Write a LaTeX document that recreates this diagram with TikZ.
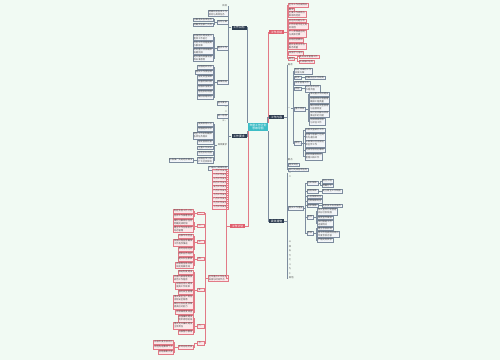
\documentclass[tikz,border=0pt]{standalone}
\usepackage{fontspec}
\setmainfont{Noto Sans CJK SC}
\usepackage{xcolor}
\usetikzlibrary{positioning}

\definecolor{mmbg}{HTML}{F1FAF3}
\definecolor{mmteal}{HTML}{3DBDC6}
\definecolor{mmnavy}{HTML}{2E3D50}
\definecolor{mmred}{HTML}{E0606E}
\definecolor{mmnline}{HTML}{7D8C9E}
\definecolor{mmnfill}{HTML}{F3F6F9}
\definecolor{mmrline}{HTML}{E27A86}
\definecolor{mmrfill}{HTML}{FCE8EA}
\definecolor{mmtext}{HTML}{4A4A4A}

\newcommand{\leaffont}{\fontsize{1.3pt}{1.6pt}\selectfont}
\newcommand{\topicfont}{\fontsize{1.6pt}{1.9pt}\selectfont}

\begin{document}
\begin{tikzpicture}[x=0.02cm, y=-0.02cm,
    root/.style={rectangle, fill=mmteal, text=white, font=\topicfont, align=center, inner xsep=0.8pt, inner ysep=0.5pt, minimum width=0.4cm, minimum height=0.12cm},
    navymain/.style={rectangle, fill=mmnavy, text=white, font=\topicfont, minimum width=0.3cm, minimum height=0.07cm, inner sep=0.4pt},
    redmain/.style={navymain, fill=mmred},
    nleaf/.style={rectangle, draw=mmnline, fill=mmnfill, line width=0.1pt, text=mmtext, font=\leaffont, align=left, inner xsep=0.5pt, inner ysep=0.35pt},
    rleaf/.style={nleaf, draw=mmrline, fill=mmrfill},
    word/.style={font=\leaffont, text=mmtext, inner sep=0.35pt},
    nline/.style={draw=mmnline, line width=0.3pt},
    rline/.style={draw=mmrline, line width=0.3pt}
]
\fill[mmbg] (0,0) rectangle (500,360);

\node[root] (root) at (258,127) {年度工作计划\\思维导图};

% main topics
\node[navymain] (a) at (239,27.5)  {工作目标};
\node[redmain]  (b) at (276.5,32)  {工作总结};
\node[navymain] (c) at (276.5,117) {工作内容};
\node[navymain] (d) at (239,136)   {工作要求};
\node[redmain]  (e) at (237.5,226) {工作计划};
\node[navymain] (f) at (276.5,221) {具体措施};

\draw[nline] (root.north west) |- (a.east);
\draw[nline] (root.south west) |- (d.east);
\draw[rline] ([xshift=0.6pt]root.south west) |- (e.east);
\draw[rline] (root.north east) |- (b.west);
\draw[nline] ([xshift=-0.6pt]root.north east) |- (c.west);
\draw[nline] (root.south east) |- (f.west);

% ---- a
\node[word, anchor=east]  (a1) at (228,6)  {目标};
\node[nleaf, anchor=east] (a2) at (228,13) {明确年度各项工作\\目标与具体任务};
\node[nleaf, anchor=east] (a3) at (228,22) {任务分解};
\node[nleaf, anchor=east] (a4) at (228,48) {重点工作};
\node[nleaf, anchor=east] (a5) at (228,82) {保障措施};
\foreach \n in {a1,a2,a3,a4,a5} \draw[nline] (a.west) -- ++(-3,0) |- (\n.east);

\coordinate (a3x) at ([xshift=-0.08cm]a3.west);
\node[nleaf, anchor=east] (a31) at (a3x |- 0,19.5) {分解落实各项任务};
\node[nleaf, anchor=east] (a32) at (a3x |- 0,24.5) {明确责任部门人员};
\foreach \n in {a31,a32} \draw[nline] (a3.west) -- ++(-3,0) |- (\n.east);

\coordinate (a4x) at ([xshift=-0.08cm]a4.west);
\node[nleaf, anchor=east] (a41) at (a4x |- 0,37) {加强团队建设提升\\整体工作能力};
\node[nleaf, anchor=east] (a42) at (a4x |- 0,44) {优化工作流程提高\\办事效率};
\node[nleaf, anchor=east] (a43) at (a4x |- 0,51) {抓好重点项目确保\\按期完成};
\node[nleaf, anchor=east] (a44) at (a4x |- 0,58) {提升服务质量增强\\群众满意度};
\foreach \n in {a41,a42,a43,a44} \draw[nline] (a4.west) -- ++(-3,0) |- (\n.east);

\coordinate (a5x) at ([xshift=-0.08cm]a5.west);
\node[nleaf, anchor=east] (a51) at (a5x |- 0,67) {加强组织领导};
\node[nleaf, anchor=east] (a52) at (a5x |- 0,72) {落实工作责任制};
\node[nleaf, anchor=east] (a53) at (a5x |- 0,77) {强化资金保障};
\node[nleaf, anchor=east] (a54) at (a5x |- 0,82) {完善考核机制};
\node[nleaf, anchor=east] (a55) at (a5x |- 0,87) {加强队伍建设};
\node[nleaf, anchor=east] (a56) at (a5x |- 0,92) {营造良好氛围};
\node[nleaf, anchor=east] (a57) at (a5x |- 0,97) {做好总结评估};
\foreach \n in {a51,a52,a53,a54,a55,a56,a57} \draw[nline] (a5.west) -- ++(-3,0) |- (\n.east);

% ---- b
\node[rleaf, anchor=west] (b1)  at (288,5)    {全年工作完成情况};
\node[rleaf, anchor=west] (b2)  at (288,9.5)  {概况};
\node[rleaf, anchor=west] (b3)  at (288,14.5) {主要工作成绩与\\取得的经验};
\node[rleaf, anchor=west] (b4)  at (288,20.5) {存在的问题分析};
\node[rleaf, anchor=west] (b5)  at (288,26.5) {工作中的不足之处\\及原因};
\node[rleaf, anchor=west] (b6)  at (288,33.5) {下一步改进方向\\与具体打算};
\node[rleaf, anchor=west] (b7)  at (288,40)   {总结经验教训};
\node[rleaf, anchor=west] (b8)  at (288,46.5) {提升业务水平与\\服务质量};
\node[rleaf, anchor=west] (b9)  at (288,53)   {加强学习培训};
\node[rleaf, anchor=west] (b10) at (288,58.5) {其他};
\foreach \n in {b1,b2,b3,b4,b5,b6,b7,b8,b9,b10} \draw[rline] (b.east) -- ++(3,0) |- (\n.west);

\coordinate (b10x) at ([xshift=0.08cm]b10.east);
\node[rleaf, anchor=west] (b101) at (b10x |- 0,56.5) {做好日常管理工作};
\node[rleaf, anchor=west] (b102) at (b10x |- 0,61.5) {完成临时任务};
\foreach \n in {b101,b102} \draw[rline] (b10.east) -- ++(3,0) |- (\n.west);

% ---- c
\node[word, anchor=west]  (c1) at (287,65)    {概述};
\node[word, anchor=west]  (c2) at (287,108)   {一};
\node[word, anchor=west]  (c3) at (287,160)   {要点};
\node[nleaf, anchor=west] (c4) at (288,164.5) {落实到位};
\node[nleaf, anchor=west] (c5) at (288,169.5) {按时完成各项任务};
\foreach \n in {c1,c2,c3,c4,c5} \draw[nline] (c.east) -- ++(3,0) |- (\n.west);

\coordinate (c2x) at ([xshift=0.06cm]c2.east);
\node[nleaf, anchor=west] (c21) at (c2x |- 0,71)   {制定详细的工作\\实施方案};
\node[nleaf, anchor=west] (c22) at (c2x |- 0,77.5) {职责};
\node[nleaf, anchor=west] (c23) at (c2x |- 0,83)   {日常管理工作};
\node[nleaf, anchor=west] (c24) at (c2x |- 0,88.5) {流程};
\node[nleaf, anchor=west] (c25) at (c2x |- 0,109)  {重点项目};
\node[nleaf, anchor=west] (c26) at (c2x |- 0,143)  {其他};
\foreach \n in {c21,c22,c23,c24,c25,c26} \draw[nline] (c2.east) -- ++(2,0) |- (\n.west);

\coordinate (c22x) at ([xshift=0.08cm]c22.east);
\node[nleaf, anchor=west] (c221) at (c22x |- 0,77.5) {明确岗位工作职责};
\draw[nline] (c22.east) -- (c221.west);
\coordinate (c24x) at ([xshift=0.08cm]c24.east);
\node[nleaf, anchor=west] (c241) at (c24x |- 0,88.5) {规范各项业务\\办理流程};
\draw[nline] (c24.east) -- (c241.west);

\coordinate (c25x) at ([xshift=0.08cm]c25.east);
\node[nleaf, anchor=west] (c251) at (c25x |- 0,94)    {推进重点项目建设};
\node[nleaf, anchor=west] (c252) at (c25x |- 0,100.5) {加强项目过程管理\\确保工程质量};
\node[nleaf, anchor=west] (c253) at (c25x |- 0,107.5) {做好项目资金使用\\与监督检查};
\node[nleaf, anchor=west] (c254) at (c25x |- 0,114.5) {及时协调解决项目\\推进中的问题};
\node[nleaf, anchor=west] (c255) at (c25x |- 0,121.5) {完成项目验收\\与评估工作};
\foreach \n in {c251,c252,c253,c254,c255} \draw[nline] (c25.east) -- ++(3,0) |- (\n.west);

\coordinate (c26x) at ([xshift=0.08cm]c26.east);
\node[nleaf, anchor=west] (c261) at (c26x |- 0,130)   {开展调查研究工作};
\node[nleaf, anchor=west] (c262) at (c26x |- 0,136.5) {加强与各部门之间\\的沟通协调};
\node[nleaf, anchor=west] (c263) at (c26x |- 0,143.5) {认真做好信息报送\\和宣传工作};
\node[nleaf, anchor=west] (c264) at (c26x |- 0,150)   {完成领导交办事项};
\node[nleaf, anchor=west] (c265) at (c26x |- 0,156.5) {做好档案资料的\\整理归档工作};
\foreach \n in {c261,c262,c263,c264,c265} \draw[nline] (c26.east) -- ++(3,0) |- (\n.west);

% ---- d
\node[nleaf, anchor=east] (d1) at (228,103)   {基本要求};
\node[word, anchor=east]  (d2) at (228,107)   {一};
\node[word, anchor=east]  (d3) at (228,111.5) {二};
\node[nleaf, anchor=east] (d4) at (228,116)   {统一思想};
\node[word, anchor=east]  (d5) at (228,120.5) {三、};
\node[word, anchor=east]  (d6) at (228,145)   {具体要求};
\node[nleaf, anchor=east] (d7) at (228,168)   {严格执行规章制度};
\foreach \n in {d1,d2,d3,d4,d5,d6,d7} \draw[nline] (d.west) -- ++(-3,0) |- (\n.east);

\coordinate (d6x) at ([xshift=-0.08cm]d6.west);
\node[nleaf, anchor=east] (d61) at (d6x |- 0,124)   {提高思想认识};
\node[nleaf, anchor=east] (d62) at (d6x |- 0,129)   {加强组织领导};
\node[nleaf, anchor=east] (d63) at (d6x |- 0,135.5) {健全工作机制确保\\各项任务落实};
\node[nleaf, anchor=east] (d64) at (d6x |- 0,142)   {强化督促检查};
\node[nleaf, anchor=east] (d65) at (d6x |- 0,147.5) {注重工作实效};
\node[nleaf, anchor=east] (d66) at (d6x |- 0,153)   {营造良好氛围};
\node[nleaf, anchor=east] (d67) at (d6x |- 0,160)   {加强宣传引导\\扩大社会影响};
\foreach \n in {d61,d62,d63,d64,d65,d66,d67} \draw[nline] (d6.west) -- ++(-3,0) |- (\n.east);

\coordinate (d67x) at ([xshift=-0.08cm]d67.west);
\node[nleaf, anchor=east] (d671) at (d67x |- 0,160) {积极推广先进经验做法};
\draw[nline] (d67.west) -- (d671.east);

% ---- e
\node[rleaf, anchor=east] (e1)  at (228,171) {一月工作安排};
\node[rleaf, anchor=east] (e2)  at (228,175) {二月工作安排};
\node[rleaf, anchor=east] (e3)  at (228,179) {三月工作安排};
\node[rleaf, anchor=east] (e4)  at (228,183) {四月工作安排};
\node[rleaf, anchor=east] (e5)  at (228,187) {五月工作安排};
\node[rleaf, anchor=east] (e6)  at (228,191) {六月工作安排};
\node[rleaf, anchor=east] (e7)  at (228,195) {七月工作安排};
\node[rleaf, anchor=east] (e8)  at (228,199) {八月工作安排};
\node[rleaf, anchor=east] (e9)  at (228,203) {九月工作安排};
\node[rleaf, anchor=east] (e10) at (228,207) {十月工作安排};
\node[rleaf, anchor=east] (e11) at (228,278) {全年重点工作任务\\安排与时间节点};
\foreach \n in {e1,e2,e3,e4,e5,e6,e7,e8,e9,e10,e11} \draw[rline] (e.west) -- ++(-3,0) |- (\n.east);

\coordinate (e11x) at ([xshift=-0.08cm]e11.west);
\node[rleaf, anchor=east] (e111) at (e11x |- 0,213) {一、};
\node[rleaf, anchor=east] (e112) at (e11x |- 0,226) {二、};
\node[rleaf, anchor=east] (e113) at (e11x |- 0,242) {三、};
\node[rleaf, anchor=east] (e114) at (e11x |- 0,259) {四、};
\node[rleaf, anchor=east] (e115) at (e11x |- 0,290) {五、};
\node[rleaf, anchor=east] (e116) at (e11x |- 0,326) {六、};
\node[rleaf, anchor=east] (e117) at (e11x |- 0,343) {七、};
\foreach \n in {e111,e112,e113,e114,e115,e116,e117} \draw[rline] (e11.west) -- ++(-3,0) |- (\n.east);

\coordinate (g1x) at ([xshift=-0.08cm]e111.west);
\node[rleaf, anchor=east] (g11) at (g1x |- 0,211) {制定年度工作计划};
\node[rleaf, anchor=east] (g12) at (g1x |- 0,216) {召开工作部署会议};
\foreach \n in {g11,g12} \draw[rline] (e111.west) -- ++(-3,0) |- (\n.east);

\coordinate (g2x) at ([xshift=-0.08cm]e112.west);
\node[rleaf, anchor=east] (g21) at (g2x |- 0,222) {细化分解目标任务\\明确完成时限};
\node[rleaf, anchor=east] (g22) at (g2x |- 0,229) {建立工作台账实行\\动态管理};
\foreach \n in {g21,g22} \draw[rline] (e112.west) -- ++(-3,0) |- (\n.east);

\coordinate (g3x) at ([xshift=-0.08cm]e113.west);
\node[rleaf, anchor=east] (g31) at (g3x |- 0,236)   {开展专项检查};
\node[rleaf, anchor=east] (g32) at (g3x |- 0,242.5) {加强过程监督确保\\工作有序推进};
\node[rleaf, anchor=east] (g33) at (g3x |- 0,249)   {及时总结经验};
\foreach \n in {g31,g32,g33} \draw[rline] (e113.west) -- ++(-3,0) |- (\n.east);

\coordinate (g4x) at ([xshift=-0.08cm]e114.west);
\node[rleaf, anchor=east] (g41) at (g4x |- 0,254) {组织业务培训};
\node[rleaf, anchor=east] (g42) at (g4x |- 0,259) {提升队伍素质};
\node[rleaf, anchor=east] (g43) at (g4x |- 0,265) {开展岗位练兵和\\技能竞赛活动};
\foreach \n in {g41,g42,g43} \draw[rline] (e114.west) -- ++(-3,0) |- (\n.east);

\coordinate (g5x) at ([xshift=-0.08cm]e115.west);
\node[rleaf, anchor=east] (g51) at (g5x |- 0,272)   {推进制度建设};
\node[rleaf, anchor=east] (g52) at (g5x |- 0,278.5) {完善内部管理制度\\规范工作程序};
\node[rleaf, anchor=east] (g53) at (g5x |- 0,285.5) {加强信息化建设\\提高工作效率};
\node[rleaf, anchor=east] (g54) at (g5x |- 0,292)   {强化安全管理};
\node[rleaf, anchor=east] (g55) at (g5x |- 0,298.5) {落实安全生产责任\\消除安全隐患};
\node[rleaf, anchor=east] (g56) at (g5x |- 0,305.5) {做好应急处置预案\\提高应对能力};
\node[rleaf, anchor=east] (g57) at (g5x |- 0,312)   {开展满意度调查};
\foreach \n in {g51,g52,g53,g54,g55,g56,g57} \draw[rline] (e115.west) -- ++(-3,0) |- (\n.east);

\coordinate (g6x) at ([xshift=-0.08cm]e116.west);
\node[rleaf, anchor=east] (g61) at (g6x |- 0,318.5) {加强廉政建设\\筑牢思想防线};
\node[rleaf, anchor=east] (g62) at (g6x |- 0,325.5) {落实党风廉政建设\\主体责任};
\node[rleaf, anchor=east] (g63) at (g6x |- 0,332)   {开展警示教育};
\foreach \n in {g61,g62,g63} \draw[rline] (e116.west) -- ++(-3,0) |- (\n.east);

\coordinate (g7x) at ([xshift=-0.08cm]e117.west);
\node[rleaf, anchor=east] (g71) at (g7x |- 0,347) {年终总结考核};
\draw[rline] (e117.west) -- ++(-3,0) |- (g71.east);
\coordinate (g71x) at ([xshift=-0.08cm]g71.west);
\node[rleaf, anchor=east] (g711) at (g71x |- 0,342) {开展年度考核评比};
\node[rleaf, anchor=east] (g712) at (g71x |- 0,347) {评选先进集体个人};
\node[rleaf, anchor=east] (g713) at (g71x |- 0,352) {总结表彰大会};
\foreach \n in {g711,g712,g713} \draw[rline] (g71.west) -- ++(-3,0) |- (\n.east);

% ---- f
\node[word, anchor=west]  (f1)  at (288,173)   {一};
\node[word, anchor=west]  (f2)  at (288,177)   {二};
\node[nleaf, anchor=west] (f3)  at (288,208)   {落实工作措施};
\node[word, anchor=west]  (f4)  at (288,242)   {三};
\node[word, anchor=west]  (f5)  at (288,246.5) {四};
\node[word, anchor=west]  (f6)  at (288,251)   {五};
\node[word, anchor=west]  (f7)  at (288,255.5) {六};
\node[word, anchor=west]  (f8)  at (288,260)   {七};
\node[word, anchor=west]  (f9)  at (288,264.5) {八};
\node[word, anchor=west]  (f10) at (288,269)   {九};
\node[word, anchor=west]  (f11) at (288,273.5) {十};
\node[word, anchor=west]  (f12) at (288,278)   {其他};
\foreach \n in {f1,f2,f3,f4,f5,f6,f7,f8,f9,f10,f11,f12} \draw[nline] (f.east) -- ++(3,0) |- (\n.west);

\coordinate (f3x) at ([xshift=0.06cm]f3.east);
\node[nleaf, anchor=west] (f31) at (f3x |- 0,183)   {组织保障};
\node[nleaf, anchor=west] (f32) at (f3x |- 0,191)   {制度保障};
\node[nleaf, anchor=west] (f33) at (f3x |- 0,196.5) {人员保障到位};
\node[nleaf, anchor=west] (f34) at (f3x |- 0,201)   {经费保障到位};
\node[nleaf, anchor=west] (f35) at (f3x |- 0,205.5) {技术保障};
\node[nleaf, anchor=west] (f36) at (f3x |- 0,217)   {宣传};
\node[nleaf, anchor=west] (f37) at (f3x |- 0,233)   {考核};
\foreach \n in {f31,f32,f33,f34,f35,f36,f37} \draw[nline] (f3.east) -- ++(2,0) |- (\n.west);

\coordinate (f31x) at ([xshift=0.08cm]f31.east);
\node[nleaf, anchor=west] (f311) at (f31x |- 0,181)   {成立小组};
\node[nleaf, anchor=west] (f312) at (f31x |- 0,185.5) {明确分工};
\foreach \n in {f311,f312} \draw[nline] (f31.east) -- ++(3,0) |- (\n.west);
\coordinate (f32x) at ([xshift=0.08cm]f32.east);
\node[nleaf, anchor=west] (f321) at (f32x |- 0,191) {建立健全工作制度};
\draw[nline] (f32.east) -- (f321.west);
\coordinate (f35x) at ([xshift=0.08cm]f35.east);
\node[nleaf, anchor=west] (f351) at (f35x |- 0,205.5) {提供技术支持服务};
\draw[nline] (f35.east) -- (f351.west);

\coordinate (f36x) at ([xshift=0.08cm]f36.east);
\node[nleaf, anchor=west] (f361) at (f36x |- 0,211.5) {加大宣传力度营造\\良好社会氛围};
\node[nleaf, anchor=west] (f362) at (f36x |- 0,217.5) {拓宽宣传渠道};
\node[nleaf, anchor=west] (f363) at (f36x |- 0,223)   {及时报道工作\\进展情况};
\foreach \n in {f361,f362,f363} \draw[nline] (f36.east) -- ++(3,0) |- (\n.west);

\coordinate (f37x) at ([xshift=0.08cm]f37.east);
\node[nleaf, anchor=west] (f371) at (f37x |- 0,228.5) {建立考核机制};
\node[nleaf, anchor=west] (f372) at (f37x |- 0,234)   {将工作完成情况纳入\\年度考核内容};
\node[nleaf, anchor=west] (f373) at (f37x |- 0,240)   {严格兑现奖惩};
\foreach \n in {f371,f372,f373} \draw[nline] (f37.east) -- ++(3,0) |- (\n.west);
\end{tikzpicture}
\end{document}
